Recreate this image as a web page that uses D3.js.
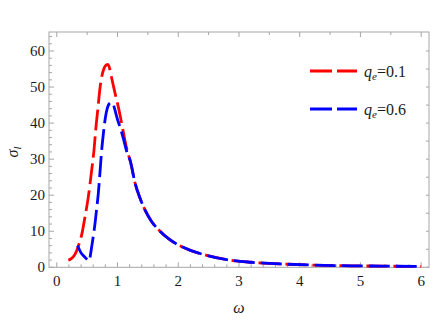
<!DOCTYPE html>
<html><head><meta charset="utf-8">
<script src="https://cdn.jsdelivr.net/npm/d3@7"></script>
<style>body{margin:0;background:#fff}svg{display:block}</style>
</head><body>
<script>
// Data
const redOmega = [0.19,0.23,0.27,0.31,0.35,0.38,0.41,0.465,0.52,0.575,0.61,0.646,0.68,0.71,0.74,0.77,0.80,0.838,0.87,0.90,0.93,0.97,1.013,1.05,1.096,1.14,1.18,1.21,1.29,1.37,1.45,1.55,1.70,1.85,2.0,2.2,2.47,2.85,3.2,3.8,4.4,5.0,5.5,6.0];
const redSigma = [2.0,2.3,2.9,3.9,5.6,7.2,9.0,14,19.6,27,32,39,44.5,49.5,52.8,54.8,55.9,56.3,55.2,52.8,50.5,47.5,44.5,41.5,37.5,33.8,31.2,29.5,23.3,19.2,16.0,13.0,10.0,7.8,6.2,4.7,3.3,2.0,1.4,0.85,0.55,0.38,0.3,0.22];
const blueOmega = [0.34,0.37,0.40,0.44,0.48,0.52,0.535,0.555,0.575,0.60,0.63,0.655,0.684,0.71,0.735,0.77,0.80,0.83,0.86,0.90,0.93,0.96,1.00,1.04,1.10,1.15,1.21,1.29,1.37,1.45,1.55,1.70,1.85,2.0,2.2,2.47,2.85,3.2,3.8,4.4,5.0,5.5,6.0];
const blueSigma = [6.0,5.0,4.0,3.2,2.5,1.9,1.8,3.5,5.7,8.5,12.2,16,20.5,26,31.6,37.5,41.5,44,45.3,45.7,45.2,43.5,41,39,35.5,32.2,29.5,23.3,19.2,16.0,13.0,10.0,7.8,6.2,4.7,3.3,2.0,1.4,0.85,0.55,0.38,0.3,0.22];
const xTicks = [0,1,2,3,4,5,6];
const yTicks = [0,10,20,30,40,50,60];
const legendLabels = ["0.1","0.6"];
const colors = ["#ff0000","#0000ff"];

const W = 436, H = 321;
const L = 49, R = 429, T = 32, B = 267.3;
const svg = d3.select("body").append("svg").attr("width", W).attr("height", H)
  .style("font-family", "'DejaVu Serif', serif");
const x = d3.scaleLinear().domain([-0.128, 6.129]).range([L, R]);
const y = d3.scaleLinear().domain([0, 65.27]).range([B, T]);
const frameColor = "#a6a6a6";
const txt = "#1a1a1a";
const FF = "'Liberation Serif', 'DejaVu Serif', serif";

// frame
svg.append("rect").attr("x", L).attr("y", T).attr("width", R - L).attr("height", B - T)
  .attr("fill", "none").attr("stroke", frameColor).attr("stroke-width", 1);

// ticks
const g = svg.append("g").attr("stroke", frameColor).attr("stroke-width", 1);
d3.range(0, 6.0001, 0.2).forEach(v => {
  const major = Math.abs(v - Math.round(v)) < 1e-6;
  g.append("line").attr("x1", x(v)).attr("x2", x(v)).attr("y1", B).attr("y2", B - (major ? 5 : 3));
});
d3.range(0, 6.0001, 0.5).forEach(v => {
  const major = Math.abs(v - Math.round(v)) < 1e-6;
  g.append("line").attr("x1", x(v)).attr("x2", x(v)).attr("y1", T).attr("y2", T + (major ? 5 : 3));
});
d3.range(0, 64.001, 2).forEach(v => {
  const major = v % 10 === 0;
  g.append("line").attr("x1", L).attr("x2", L + (major ? 5 : 3)).attr("y1", y(v)).attr("y2", y(v));
});
d3.range(0, 65, 5).forEach(v => {
  g.append("line").attr("x1", R).attr("x2", R - 3).attr("y1", y(v)).attr("y2", y(v));
});

// tick labels
svg.append("g").selectAll("text").data(xTicks).join("text")
  .attr("x", d => x(d)).attr("y", 286).attr("text-anchor", "middle")
  .style("font-family", FF).style("font-size", "15px").attr("fill", txt).text(d => d);
svg.append("g").selectAll("text").data(yTicks).join("text")
  .attr("x", 45).attr("y", d => y(d) + 5).attr("text-anchor", "end")
  .style("font-family", FF).style("font-size", "15px").attr("fill", txt).text(d => d);

// axis labels
svg.append("text").attr("x", 239).attr("y", 313).attr("text-anchor", "middle")
  .style("font-family", FF).style("font-size", "16px").style("font-style", "italic").attr("fill", txt).text("ω");
const yl = svg.append("text").attr("transform", "translate(18,152) rotate(-90)").attr("text-anchor", "middle")
  .style("font-family", FF).style("font-size", "16px").style("font-style", "italic").attr("fill", txt);
yl.append("tspan").text("σ");
yl.append("tspan").style("font-size", "11px").attr("dy", 3).text("l");

// curves
const line = d3.line().x(d => x(d[0])).y(d => y(d[1])).curve(d3.curveMonotoneX);
const series = [d3.zip(redOmega, redSigma), d3.zip(blueOmega, blueSigma)];
const plot = svg.append("g");
series.forEach((s, i) => {
  plot.append("path").attr("d", line(s)).attr("fill", "none").attr("stroke", colors[i])
    .attr("stroke-width", 2.8).attr("stroke-dasharray", "21,6").attr("stroke-linecap", "butt")
    .attr("stroke-dashoffset", i === 0 ? 0 : 4);
});

// legend
const legY = [71, 109];
legendLabels.forEach((lab, i) => {
  svg.append("line").attr("x1", 310).attr("x2", 357).attr("y1", legY[i]).attr("y2", legY[i])
    .attr("stroke", colors[i]).attr("stroke-width", 2.8).attr("stroke-dasharray", "22,5");
  const t = svg.append("text").attr("x", 364).attr("y", legY[i] + 6)
    .style("font-family", FF).style("font-size", "16px").attr("fill", txt);
  t.append("tspan").style("font-style", "italic").text("q");
  t.append("tspan").style("font-style", "italic").style("font-size", "11px").attr("dy", 3).text("e");
  t.append("tspan").attr("dy", -3).text("=" + lab);
});
</script>
</body></html>
